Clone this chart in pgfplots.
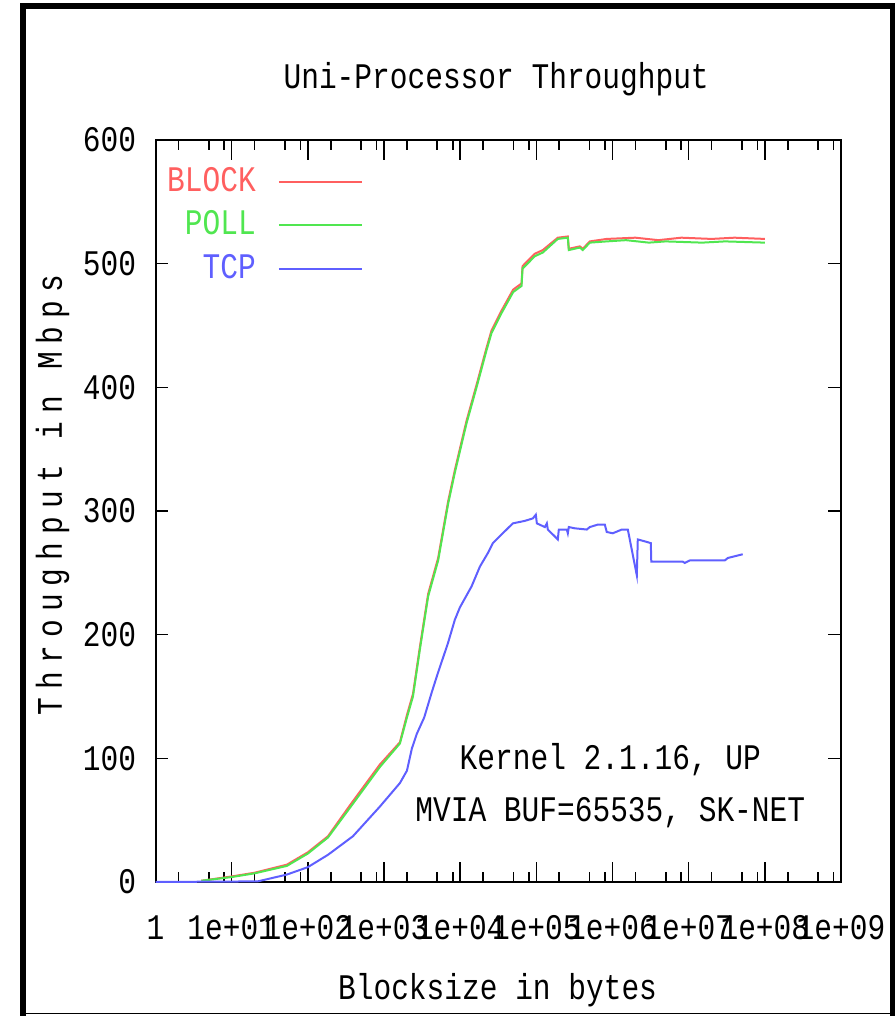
\documentclass[border=0pt]{standalone}
\usepackage{fontspec}
\setmainfont{Liberation Mono}[FakeStretch=0.82]
\newfontfamily\ylabfont{Liberation Mono}[FakeStretch=0.82, LetterSpace=22.5]
\usepackage{pgfplots}
\pgfplotsset{compat=1.18}
\definecolor{cBlock}{RGB}{255,95,95}
\definecolor{cPoll}{RGB}{80,230,80}
\definecolor{cTcp}{RGB}{95,95,255}
\newcommand\gp{\fontsize{18pt}{20pt}\selectfont}

\begin{document}
\gp
\begin{tikzpicture}
\useasboundingbox (0,0) rectangle (447.5pt,508pt);
% outer frame
\draw[line width=3pt] (11.5pt,0) -- (11.5pt,506.5pt);
\draw[line width=3pt] (10pt,505pt) -- (447.5pt,505pt);
\draw[line width=2.5pt] (446.25pt,0) -- (446.25pt,506.5pt);
\draw[line width=0.6pt] (10pt,1.25pt) -- (447.5pt,1.25pt);

% y ticks (shorter)
\begin{axis}[
    at={(77.75pt,67pt)}, anchor=south west,
    width=342.75pt, height=371pt, scale only axis,
    xmode=log, xmin=1, xmax=1e9, ymin=0, ymax=600,
    axis line style={line width=1pt},
    every tick/.style={black, line width=0.8pt},
    tick align=inside,
    xtick=\empty,
    ytick={0,100,200,300,400,500,600},
    major tick length=6.5pt,
    yticklabel style={anchor=east, inner sep=0pt, xshift=-9.5pt,
        /pgf/number format/assume math mode=true},
]
\end{axis}

\begin{axis}[
    at={(77.75pt,67pt)}, anchor=south west,
    width=342.75pt, height=371pt, scale only axis,
    xmode=log, xmin=1, xmax=1e9, ymin=0, ymax=600,
    axis line style={line width=1pt},
    every tick/.style={black, line width=0.8pt},
    tick align=inside,
    ytick=\empty,
    xtick={1,10,100,1000,1e4,1e5,1e6,1e7,1e8,1e9},
    xticklabels={1,1e+01,1e+02,1e+03,1e+04,1e+05,1e+06,1e+07,1e+08,1e+09},
    minor xtick={2,5,8,20,50,80,200,500,800,2e3,5e3,8e3,2e4,5e4,8e4,
                 2e5,5e5,8e5,2e6,5e6,8e6,2e7,5e7,8e7,2e8,5e8,8e8},
    major tick length=10pt, minor tick length=5pt,
    xticklabel style={anchor=base, inner sep=0pt, yshift=-28.5pt},
    every axis title shift=0pt,
    title={Uni-Processor Throughput},
    title style={at={(rel axis cs:0.497,1.070)}, anchor=base, inner sep=0pt},
    xlabel={Blocksize in bytes},
    xlabel style={at={(rel axis cs:0.499,-0.159)}, anchor=base, inner sep=0pt},
    ylabel={\ylabfont Throughput in Mbps},
    ylabel style={at={(rel axis cs:-0.1364,0.5216)}, anchor=base, inner sep=0pt},
    legend plot pos=right,
    legend cell align=right,
    legend image code/.code={\draw[#1] (0pt,0pt) -- (41.5pt,0pt);},
    legend style={draw=none, fill=none, at={(rel axis cs:0.303,0.9695)},
        anchor=north east, inner sep=0pt, row sep=3pt, column sep=9pt},
]
\addplot[cBlock, line width=1pt] coordinates {
(4,1) (10,4.5) (20,7.5) (53,14) (100,24) (184,37) (357,62) (883,95)
(1618,113) (2000,135) (2400,152) (2958,190) (3800,233) (5140,262)
(6960,308) (8510,333) (12130,373) (16410,402) (22190,432) (25820,446)
(34910,462) (49630,479) (63950,484) (65900,498) (95500,508) (121600,511)
(191400,521) (259000,522) (267000,512) (372500,514) (407000,512)
(503500,518) (841000,520) (2e6,521) (4e6,519) (8e6,521) (2e7,520)
(4e7,521) (1e8,520)
};
\addlegendentry{\textcolor{cBlock}{BLOCK}}
\addplot[cPoll, line width=1pt] coordinates {
(4,1) (10,4) (20,7) (53,13) (100,23) (184,36) (357,60) (883,93)
(1618,112) (2000,133) (2400,150) (2958,188) (3800,231) (5140,260)
(6960,306) (8510,331) (12130,371) (16410,400) (22190,430) (25820,444)
(34910,460) (49630,477) (63950,482) (65900,496) (95500,506) (121600,509)
(191400,520) (259000,521) (267000,511) (372500,513) (407000,511)
(503500,517) (841000,518) (1.5e6,519) (3e6,517) (5e6,518) (1.5e7,517)
(3e7,518) (1e8,517)
};
\addlegendentry{\textcolor{cPoll}{POLL}}
\addplot[cTcp, line width=1pt] coordinates {
(1,0) (22,0.5) (53,6) (100,12) (184,22) (391,37) (883,61) (1618,80)
(2000,90) (2324,108) (2704,120) (3370,133) (4217,153) (5100,169)
(6900,193) (8510,212) (9910,222) (14110,239) (18150,255) (23110,266)
(26870,274) (34910,281) (49180,290) (70630,292) (89950,294) (98460,297)
(101600,290) (129400,287) (137400,290) (141600,285) (191400,277)
(197300,285) (251300,285) (259000,282) (267000,287) (320100,286)
(460100,285) (503500,287) (641000,289) (792500,289) (841000,283)
(1009000,282) (1324000,285) (1589000,285) (2085000,248) (2148000,277)
(2818000,275) (3184000,274) (3230000,259) (8375000,259) (8893000,258)
(10350000,260) (29790000,260) (32620000,262) (51290000,265)
};
\addlegendentry{\textcolor{cTcp}{TCP}}
\node[anchor=base] at (axis cs:935000,90.6) {Kernel 2.1.16, UP};
\node[anchor=base] at (axis cs:935000,49.3) {MVIA BUF=65535, SK-NET};
\end{axis}
\end{tikzpicture}
\end{document}
